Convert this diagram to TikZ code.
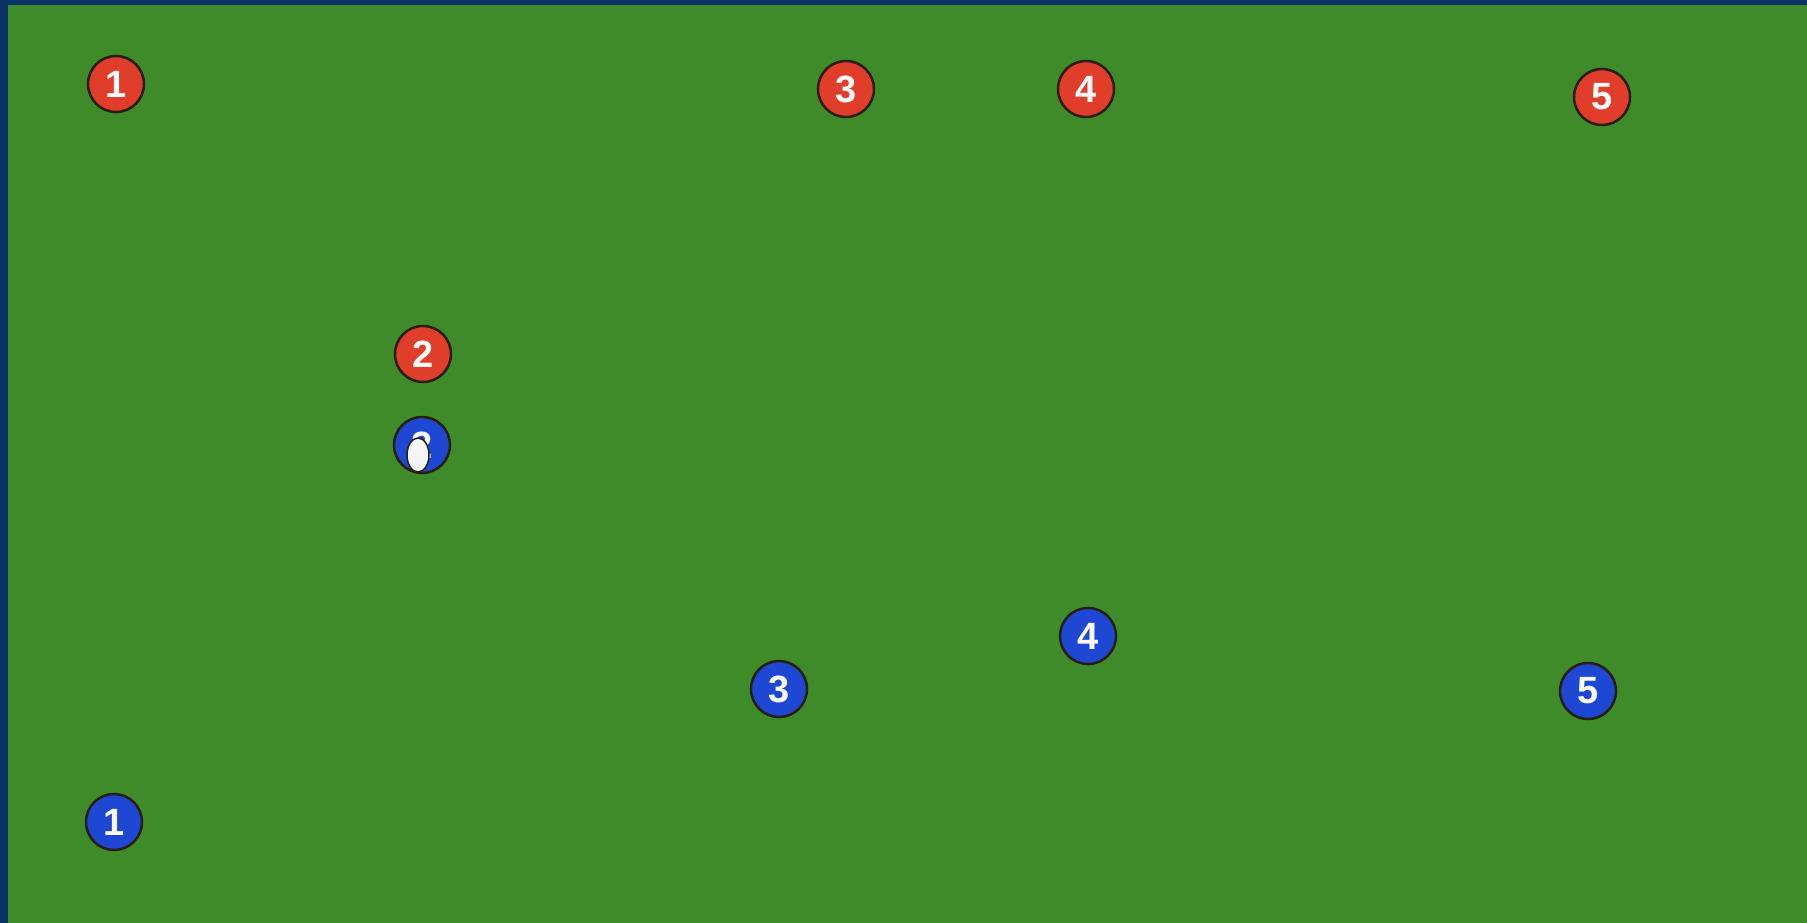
\documentclass[tikz,border=0pt]{standalone}
\usepackage{fontspec}
\setmainfont{Liberation Sans}
\definecolor{navy}{RGB}{10,50,100}
\definecolor{field}{RGB}{63,139,41}
\definecolor{redp}{RGB}{224,62,42}
\definecolor{bluep}{RGB}{30,72,212}
\definecolor{rim}{RGB}{40,30,20}
\tikzset{
  player/.style={circle, draw=rim, line width=2.5pt, minimum size=56pt, inner sep=0pt,
    text=white!95!gray, font=\fontsize{38}{38}\selectfont\bfseries},
  redplayer/.style={player, fill=redp},
  blueplayer/.style={player, fill=bluep},
  ball/.style={ellipse, draw=rim, line width=1.5pt, fill=white!92!gray, minimum width=22pt, minimum height=34pt, inner sep=0pt}
}
\usetikzlibrary{shapes.geometric}
\begin{document}
\begin{tikzpicture}[x=1pt,y=-1pt]
\useasboundingbox (0,0) rectangle (1807,923);
\fill[navy] (0,0) rectangle (1807,923);
\fill[field] (8,5) rectangle (1807,923);
\node[redplayer] (r1) at (116,84) {1};
\node[redplayer] (r2) at (423,354) {2};
\node[redplayer] (r3) at (846,89) {3};
\node[redplayer] (r4) at (1086,89) {4};
\node[redplayer] (r5) at (1602,97) {5};
\node[blueplayer] (b1) at (114,822) {1};
\node[blueplayer] (b2) at (422,445) {2};
\node[blueplayer] (b3) at (779,689) {3};
\node[blueplayer] (b4) at (1088,636) {4};
\node[blueplayer] (b5) at (1588,691) {5};
\node[ball] (ball) at (418,455) {};
\end{tikzpicture}
\end{document}
